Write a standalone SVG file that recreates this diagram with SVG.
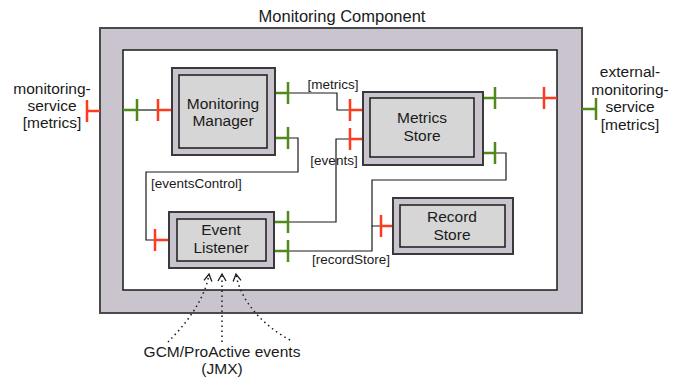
<svg xmlns="http://www.w3.org/2000/svg" width="681" height="381" viewBox="0 0 681 381">
<style>
text{font-family:"Liberation Sans",Arial,Helvetica,sans-serif;fill:#1a1a1a}
.t{font-size:15.5px;text-anchor:middle}
.title{font-size:16.5px;text-anchor:middle}
.lb{font-size:13.5px}
.comp{fill:#c9c4cd;stroke:#4a4a4a;stroke-width:2}
.inner{fill:#ffffff;stroke:#1a1a1a;stroke-width:1.5}
.bo{fill:#c9c4cd;stroke:#3a3a3a;stroke-width:2}
.bi{fill:#d6d6d6;stroke:#1a1a1a;stroke-width:1.5}
.req{fill:none;stroke:#ff3b1f;stroke-width:2.5}
.prov{fill:none;stroke:#4f8a1b;stroke-width:2.5}
.con{fill:none;stroke:#1a1a1a;stroke-width:1.2}
.dot{fill:none;stroke:#1a1a1a;stroke-width:1.5;stroke-dasharray:1.5,3.5}
</style>
<defs>
<marker id="arr" markerWidth="10" markerHeight="10" refX="8" refY="5" orient="auto" markerUnits="userSpaceOnUse">
<path d="M1,1 L8,5 L1,9" fill="none" stroke="#1a1a1a" stroke-width="1.3"/>
</marker>
</defs>
<g id="monitoring-component">
<rect class="comp" x="100" y="28" width="482" height="285"/>
<rect class="inner" x="123" y="50" width="434" height="240"/>
<text class="title" x="342" y="22">Monitoring Component</text>
</g>
<g id="connectors">
<polyline class="con" points="137,110 158,110"/>
<polyline class="con" points="288,93 337,93 337,110 350,110"/>
<polyline class="con" points="288,138 298,138 298,172 146,172 146,240 155,240"/>
<polyline class="con" points="350,139 336,139 336,222 288,222"/>
<polyline class="con" points="495,153 506,153 506,180 372,180 372,226 381,226"/>
<polyline class="con" points="288,251 372,251 372,226"/>
<polyline class="con" points="495,98 544,98"/>
<path class="dot" d="M168,342 C185,325 205,300 209,274" marker-end="url(#arr)"/>
<path class="dot" d="M222,342 L222,274" marker-end="url(#arr)"/>
<path class="dot" d="M290,340 C262,325 240,300 236,274" marker-end="url(#arr)"/>
<text class="lb" x="333" y="88.5" text-anchor="middle">[metrics]</text>
<text class="lb" x="334" y="164.5" text-anchor="middle">[events]</text>
<text class="lb" x="151" y="188">[eventsControl]</text>
<text class="lb" x="351" y="264" text-anchor="middle">[recordStore]</text>
</g>
<g id="ports">
<path class="req" d="M87,111 H100 M87,100 V122"/>
<path class="prov" d="M123,110 H137 M137,99 V121"/>
<path class="req" d="M158,110 H172 M158,99 V121"/>
<path class="prov" d="M275,93 H288 M288,82 V104"/>
<path class="prov" d="M275,138 H288 M288,127 V149"/>
<path class="req" d="M350,110 H363 M350,99 V121"/>
<path class="req" d="M350,139 H363 M350,128 V150"/>
<path class="prov" d="M483,98 H495 M495,87 V109"/>
<path class="prov" d="M483,153 H495 M495,142 V164"/>
<path class="req" d="M544,98 H557 M544,87 V109"/>
<path class="prov" d="M582,109 H596 M596,98 V120"/>
<path class="req" d="M155,240 H169 M155,229 V251"/>
<path class="prov" d="M274,222 H288 M288,211 V233"/>
<path class="prov" d="M274,251 H288 M288,240 V262"/>
<path class="req" d="M381,226 H393 M381,215 V237"/>
</g>
<g id="monitoring-manager">
<rect class="bo" x="172" y="68" width="103" height="87"/>
<rect class="bi" x="179" y="75" width="88" height="73"/>
<text class="t" x="223" y="108.5">Monitoring</text>
<text class="t" x="223" y="126">Manager</text>
</g>
<g id="metrics-store">
<rect class="bo" x="363" y="92" width="120" height="73"/>
<rect class="bi" x="370" y="98" width="104" height="59"/>
<text class="t" x="422" y="123">Metrics</text>
<text class="t" x="422" y="141">Store</text>
</g>
<g id="event-listener">
<rect class="bo" x="169" y="212" width="105" height="56"/>
<rect class="bi" x="177" y="219" width="89" height="42"/>
<text class="t" x="221" y="235">Event</text>
<text class="t" x="221" y="253">Listener</text>
</g>
<g id="record-store">
<rect class="bo" x="393" y="198" width="120" height="56"/>
<rect class="bi" x="400" y="205" width="105" height="42"/>
<text class="t" x="452" y="222">Record</text>
<text class="t" x="452" y="240">Store</text>
</g>
<g id="monitoring-service">
<text class="t" x="52" y="93.5">monitoring-</text>
<text class="t" x="52" y="110.5">service</text>
<text class="t" x="52" y="128">[metrics]</text>
</g>
<g id="external-monitoring-service">
<text class="t" x="630" y="77">external-</text>
<text class="t" x="630" y="94.5">monitoring-</text>
<text class="t" x="630" y="112">service</text>
<text class="t" x="630" y="129.5">[metrics]</text>
</g>
<g id="gcm-events">
<text class="t" x="222" y="357">GCM/ProActive events</text>
<text class="t" x="222" y="374">(JMX)</text>
</g>
</svg>
